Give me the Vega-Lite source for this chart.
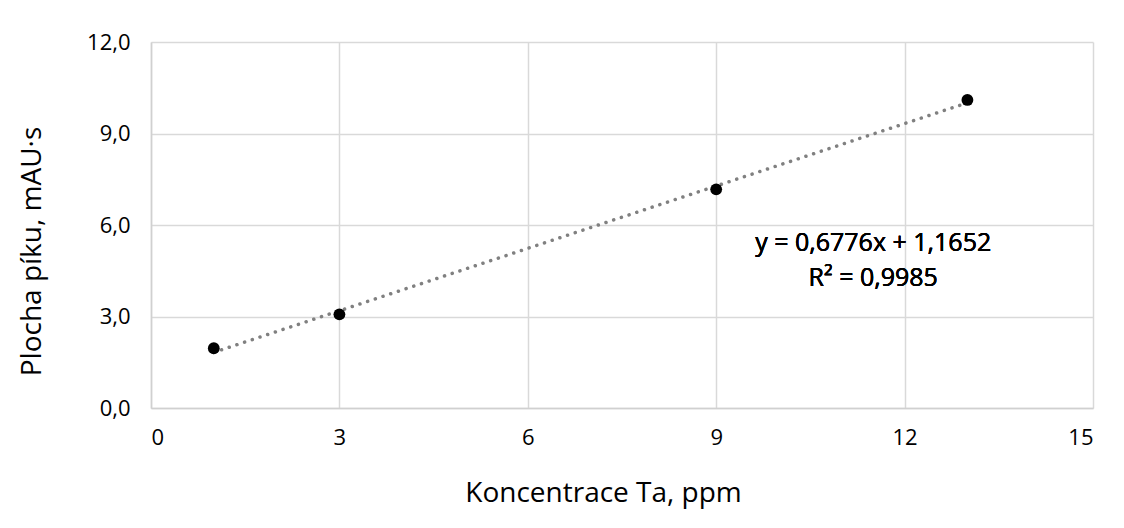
{
  "$schema": "https://vega.github.io/schema/vega-lite/v6.json",
  "autosize": "none",
  "width": 942,
  "height": 366,
  "padding": {"left": 151, "top": 42, "right": 31, "bottom": 120},
  "background": "white",
  "config": {
    "locale": {"number": {"decimal": ",", "thousands": " ", "grouping": [3], "currency": ["", ""]}},
    "view": {"stroke": null},
    "font": "Open Sans"
  },
  "data": {"values": [
    {"c": 1, "a": 1.96},
    {"c": 3, "a": 3.07},
    {"c": 9, "a": 7.17},
    {"c": 13, "a": 10.1}
  ]},
  "layer": [
    {
      "transform": [{"regression": "a", "on": "c", "extent": [1, 13]}],
      "mark": {"type": "line", "color": "#808080", "strokeWidth": 3.5, "strokeDash": [0.1, 8], "strokeCap": "round"},
      "encoding": {
        "x": {"field": "c", "type": "quantitative"},
        "y": {"field": "a", "type": "quantitative"}
      }
    },
    {
      "mark": {"type": "circle", "color": "#000000", "opacity": 1, "size": 140},
      "encoding": {
        "x": {"field": "c", "type": "quantitative", "scale": {"domain": [0, 15], "nice": false},
              "axis": {"values": [0, 3, 6, 9, 12, 15], "format": "d", "title": "Koncentrace Ta, ppm",
                       "labelPadding": 19, "titleX": 452, "titleY": 85, "titleAlign": "center", "titleBaseline": "middle",
                       "gridColor": "#d9d9d9", "gridWidth": 1.5, "domainColor": "#d0d0d0", "domainWidth": 1.5, "ticks": false,
                       "labelFont": "Open Sans", "labelFontSize": 22, "labelColor": "#000000",
                       "titleFont": "Open Sans", "titleFontSize": 28, "titleFontWeight": "normal", "titleColor": "#000000"}},
        "y": {"field": "a", "type": "quantitative", "scale": {"domain": [0, 12], "nice": false},
              "axis": {"values": [0, 3, 6, 9, 12], "format": ".1f", "title": "Plocha píku, mAU·s",
                       "labelPadding": 21, "titleX": -119, "titleY": 209, "titleAlign": "center", "titleBaseline": "middle", "titleAngle": -90,
                       "gridColor": "#d9d9d9", "gridWidth": 1.5, "domainColor": "#d0d0d0", "domainWidth": 1.5, "ticks": false,
                       "labelFont": "Open Sans", "labelFontSize": 22, "labelColor": "#000000",
                       "titleFont": "Open Sans", "titleFontSize": 28, "titleFontWeight": "normal", "titleColor": "#000000"}}
      }
    },
    {
      "mark": {"type": "text", "fontSize": 25, "fontWeight": "normal", "font": "Open Sans", "color": "#000000", "align": "center", "baseline": "middle"},
      "encoding": {
        "x": {"datum": 11.5, "type": "quantitative"},
        "y": {"datum": 5.4, "type": "quantitative"},
        "text": {"value": "y = 0,6776x + 1,1652"}
      }
    },
    {
      "mark": {"type": "text", "fontSize": 25, "fontWeight": "normal", "font": "Open Sans", "color": "#000000", "align": "center", "baseline": "middle"},
      "encoding": {
        "x": {"datum": 11.5, "type": "quantitative"},
        "y": {"datum": 4.25, "type": "quantitative"},
        "text": {"value": "R² = 0,9985"}
      }
    }
  ]
}
